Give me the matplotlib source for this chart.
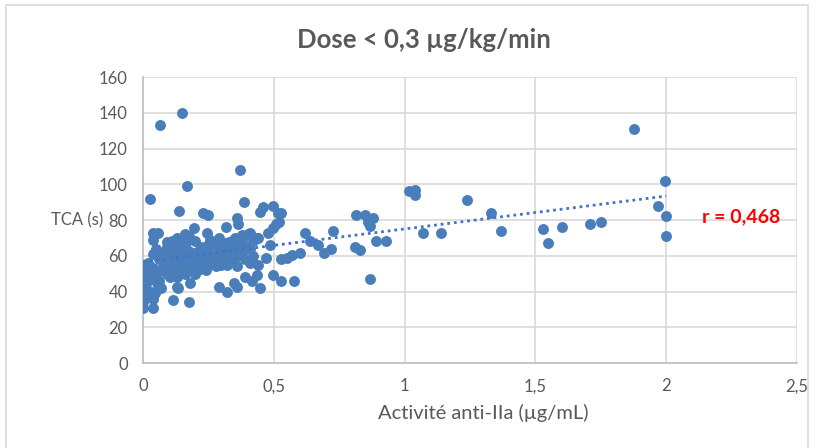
import numpy as np
import matplotlib.pyplot as plt
from matplotlib.patches import Rectangle

# Data (anti-IIa activity vs TCA)
anti_iia = [0.065, 0.149, 0.168, 0.027, 0.37, 0.385, 0.447, 0.458, 0.496, 0.527,
            0.52, 0.137, 0.23, 0.25,
            1.878, 1.996, 1.97, 2.0, 2.0, 1.75, 1.71, 1.6, 1.53, 1.55,
            1.37, 1.33, 1.24, 1.14, 1.07, 1.015, 1.04, 1.04, 0.93, 0.89,
            0.866, 0.866, 0.878, 0.85, 0.816, 0.86, 0.83, 0.81, 0.725, 0.72,
            0.62, 0.64, 0.67, 0.69, 0.6, 0.57, 0.55, 0.527, 0.527, 0.576,
            0.496, 0.485, 0.477, 0.496, 0.51, 0.515, 0.47, 0.44, 0.435, 0.447,
            0.415, 0.39, 0.41, 0.42, 0.38, 0.41, 0.435, 0.36, 0.363, 0.317,
            0.36, 0.347, 0.36, 0.32, 0.29, 0.3, 0.33, 0.286, 0.256, 0.245,
            0.245, 0.28, 0.33, 0.195, 0.176, 0.168, 0.206, 0.217, 0.2, 0.18,
            0.176, 0.115, 0.134, 0.13, 0.103, 0.076, 0.072, 0.115, 0.13, 0.153,
            0.18, 0.092, 0.057, 0.038, 0.038, 0.015, 0.0, 0.0, 0.0, 0.0,
            0.0, 0.038, 0.038, 0.046, 0.053, 0.027, 0.02,
            0.01, 0.02, 0.03, 0.04, 0.05, 0.06, 0.07, 0.08, 0.09, 0.1,
            0.11, 0.12, 0.13, 0.14, 0.15, 0.16, 0.17, 0.18, 0.19, 0.2,
            0.21, 0.22, 0.23, 0.24, 0.25, 0.26, 0.27, 0.28, 0.29, 0.3,
            0.31, 0.32, 0.33, 0.34, 0.35, 0.36, 0.37, 0.38, 0.39, 0.4,
            0.42, 0.44, 0.12, 0.14, 0.16, 0.18, 0.1, 0.08, 0.06, 0.05,
            0.09, 0.11, 0.13, 0.16, 0.2, 0.22, 0.24, 0.26, 0.28, 0.3,
            0.32, 0.34, 0.36, 0.38, 0.22, 0.19, 0.17, 0.15, 0.13, 0.11,
            0.07, 0.03, 0.01, 0.02, 0.04, 0.27, 0.31, 0.29, 0.25, 0.21,
            0.33, 0.35, 0.4, 0.41]
tca = [133, 140, 99, 92, 108, 90, 84.5, 87, 88, 84,
       79, 85, 84, 83,
       131, 102, 88, 82, 71, 79, 78, 76, 75, 67,
       74, 84, 91, 73, 73, 96, 97, 94, 68, 68,
       47, 76.6, 81, 83, 83, 79, 63, 65, 74, 64,
       73, 68, 66, 61.5, 61.5, 60.5, 59, 58, 46, 46,
       49, 66, 73, 75.5, 78, 84, 59, 55, 49, 42,
       46, 48, 64, 60, 71.6, 73, 70, 81, 78, 76,
       54, 45, 42.5, 40, 42.5, 55, 65, 69, 69, 73,
       63, 63, 67.5, 75.5, 71, 68, 62, 56, 50, 45,
       34, 35, 42, 42.5, 48, 56, 60, 65, 57.6, 54,
       57.6, 67.7, 73, 73, 69, 55, 50, 46, 42, 34,
       30.5, 30.5, 36, 39, 45, 48, 52,
       44, 47, 50, 53, 49, 46, 52, 54, 50, 58,
       62, 60, 64, 61, 66, 58, 63, 62, 55, 60,
       58, 65, 54, 60, 66, 62, 58, 66, 60, 64,
       67, 62, 58, 68, 63, 60, 66, 62, 58, 65,
       68, 70, 55, 52, 50, 53, 52, 62, 58, 64,
       65, 68, 70, 72, 68, 56, 52, 56, 54, 57,
       55, 57, 67, 69, 62, 61, 56, 59, 48, 50,
       42, 40, 38, 56, 61, 64, 61, 70, 59, 52,
       66, 70, 72, 56]

x_ticks = [0, 0.5, 1, 1.5, 2, 2.5]
x_tick_labels = ['0', '0,5', '1', '1,5', '2', '2,5']
y_ticks = [0, 20, 40, 60, 80, 100, 120, 140, 160]
r_label = 'r = 0,468'

point_color = '#4A7EBB'
text_grey = '#595959'
grid_grey = '#D9D9D9'

plt.rcParams['font.family'] = ['Lato', 'DejaVu Sans']

fig = plt.figure(figsize=(8.18, 4.48), dpi=100)
ax = fig.add_axes([143 / 818, 1 - 363 / 448, 654 / 818, 286 / 448])

# Chart area border, like the Excel frame
fig.patches.append(Rectangle((6 / 818, -0.05), 802 / 818, 1 - 5 / 448 + 0.05,
                             transform=fig.transFigure, fill=False,
                             edgecolor='#D9D9D9', linewidth=1.2))

ax.scatter(anti_iia, tca, s=62, color=point_color, zorder=3, linewidths=0)

# Linear trend line (dotted), computed from the points
xs = np.array(anti_iia)
slope, intercept = np.polyfit(xs, np.array(tca), 1)
line_x = np.array([xs.min(), xs.max()])
ax.plot(line_x, intercept + slope * line_x, linestyle=(0, (1, 1.4)),
        color='#4472C4', linewidth=2.0, zorder=4)

ax.set_xlim(0, 2.5)
ax.set_ylim(0, 160)
ax.set_xticks(x_ticks)
ax.set_xticklabels(x_tick_labels)
ax.set_yticks(y_ticks)
ax.grid(True, color=grid_grey, linewidth=1.2, zorder=0)
ax.set_axisbelow(True)
for side in ['top', 'right']:
    ax.spines[side].set_visible(False)
for side in ['left', 'bottom']:
    ax.spines[side].set_color('#BFBFBF')
    ax.spines[side].set_linewidth(1.2)
ax.tick_params(length=0, labelsize=12, labelcolor=text_grey)
ax.tick_params(axis='x', pad=11)
ax.tick_params(axis='y', pad=11)

fig.text(424 / 818, 1 - 40 / 448, 'Dose < 0,3 µg/kg/min', ha='center',
         va='center', fontsize=18.5, fontweight='bold', color=text_grey)
fig.text(103 / 818, 1 - 220 / 448, 'TCA (s)', ha='right', va='center',
         fontsize=12, color=text_grey)
fig.text(483 / 818, 1 - 413 / 448, 'Activité anti-IIa (µg/mL)', ha='center',
         va='center', fontsize=14.5, color=text_grey)
ax.text(2.137, 82, r_label, ha='left', va='center', fontsize=14,
        fontweight='bold', color='#FF0000')

fig.savefig('out.png', dpi=100)
